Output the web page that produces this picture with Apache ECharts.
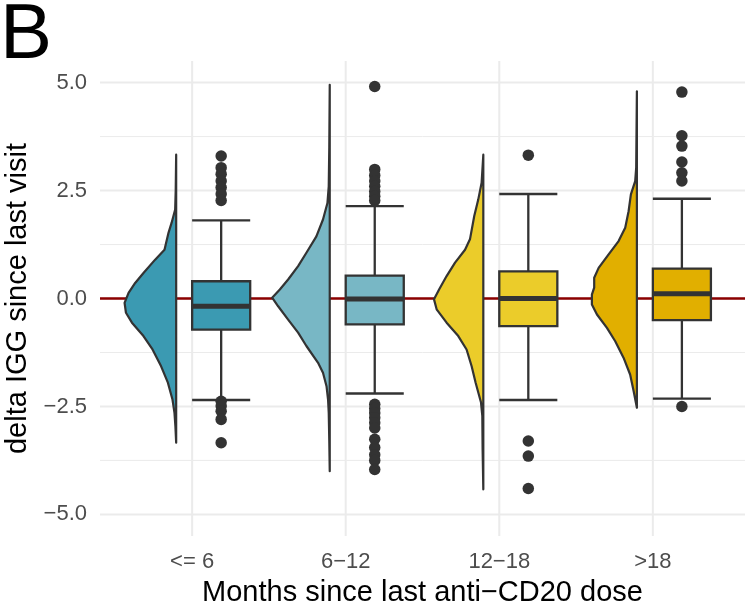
<!DOCTYPE html>
<html><head><meta charset="utf-8">
<script src="https://cdn.jsdelivr.net/npm/echarts@6/dist/echarts.min.js"></script>
<style>html,body{margin:0;padding:0;background:#fff}#c{width:747px;height:607px}</style>
</head><body><div id="c"></div>
<script>
// ---- data ----
const categories = ['<= 6', '6\u221212', '12\u221218', '>18'];
const fillColors = ['#3B9AB2', '#78B7C5', '#EBCC2A', '#E1AF00'];
const yTicksMajor = [-5, -2.5, 0, 2.5, 5];
const yTicksMinor = [-3.75, -1.25, 1.25, 3.75];

const whiskerLow = [-2.35, -2.20, -2.35, -2.32];
const q1 = [-0.72, -0.60, -0.64, -0.50];
const median = [-0.18, -0.01, 0.00, 0.11];
const q3 = [0.40, 0.53, 0.63, 0.69];
const whiskerHigh = [1.81, 2.14, 2.42, 2.31];

const outliers1 = [3.30, 3.03, 2.88, 2.72, 2.57, 2.42, 2.27, -2.38, -2.49, -2.61, -2.80, -3.34];
const outliers2 = [4.91, 2.99, 2.85, 2.72, 2.60, 2.48, 2.37, 2.27, -2.45, -2.55, -2.65, -2.76, -2.88, -3.00, -3.26, -3.45, -3.62, -3.75, -3.96];
const outliers3 = [3.32, -3.30, -3.65, -4.40];
const outliers4 = [4.78, 3.77, 3.53, 3.16, 2.91, 2.72, -2.50];

// half-violin density profiles: y value and half-width (x-axis units)
const violinY1 = [3.33, 2.5, 2.06, 1.75, 1.52, 1.13, 0.90, 0.59, 0.36, 0.13, -0.10, -0.33, -0.56, -0.87, -1.18, -1.57, -1.95, -2.34, -2.65, -2.96, -3.34];
const violinW1 = [0, 0.003, 0.0065, 0.03, 0.050, 0.076, 0.137, 0.213, 0.267, 0.310, 0.336, 0.327, 0.288, 0.213, 0.154, 0.098, 0.054, 0.024, 0.011, 0.005, 0];
const violinY2 = [4.95, 3.5, 2.6, 2.21, 1.83, 1.44, 1.06, 0.75, 0.44, 0.21, 0.02, -0.18, -0.49, -0.79, -1.10, -1.49, -1.72, -2.03, -2.34, -2.65, -3.3, -4.0];
const violinW2 = [0, 0.003, 0.0065, 0.015, 0.044, 0.087, 0.152, 0.206, 0.271, 0.325, 0.375, 0.336, 0.271, 0.206, 0.152, 0.076, 0.044, 0.021, 0.011, 0.0065, 0.003, 0];
const violinY3 = [3.33, 2.68, 2.29, 1.91, 1.37, 1.13, 0.83, 0.52, 0.21, -0.02, -0.25, -0.56, -0.87, -1.18, -1.57, -1.95, -2.41, -2.72, -3.5, -4.42];
const violinW3 = [0, 0.011, 0.033, 0.059, 0.087, 0.119, 0.184, 0.239, 0.288, 0.321, 0.304, 0.239, 0.163, 0.109, 0.076, 0.050, 0.015, 0.0065, 0.0045, 0];
const violinY4 = [4.80, 3.03, 2.72, 2.41, 2.02, 1.64, 1.33, 1.02, 0.71, 0.48, 0.25, 0.09, -0.14, -0.37, -0.68, -0.99, -1.37, -1.76, -2.15, -2.53];
const violinW4 = [0, 0.0045, 0.011, 0.039, 0.054, 0.076, 0.119, 0.184, 0.249, 0.278, 0.278, 0.293, 0.293, 0.260, 0.195, 0.141, 0.087, 0.044, 0.021, 0];

// ---- build ----
const outliers = [outliers1, outliers2, outliers3, outliers4];
const violinY = [violinY1, violinY2, violinY3, violinY4];
const violinW = [violinW1, violinW2, violinW3, violinW4];

const VIOLIN_OFF = -0.104;   // baseline offset of half violin
const BOX_L = 0.0, BOX_R = 0.378; // box extends right of category centre
const BOX_C = (BOX_L + BOX_R) / 2;
const INK = '#333333';
const FONT = 'Liberation Sans, Arial, Helvetica, sans-serif';

const catIdx = categories.map((c, i) => [i + 1, 0]);

const gridData = [];
yTicksMajor.forEach(v => gridData.push([1, v, 1]));
yTicksMinor.forEach(v => gridData.push([1, v, 0]));

const scatterData = [];
outliers.forEach((arr, i) => arr.forEach(v => scatterData.push([i + 1 + BOX_C, v])));

const chart = echarts.init(document.getElementById('c'), null, {renderer: 'canvas'});
chart.setOption({
  animation: false,
  backgroundColor: '#fff',
  grid: {left: 100, right: 2, top: 61, bottom: 71, containLabel: false, outerBoundsMode: 'none'},
  graphic: [{type: 'text', left: 0, top: -3, style: {text: 'B', fontSize: 78, fill: '#000', fontFamily: FONT}}],
  xAxis: {
    type: 'value', min: 0.4, max: 4.6,
    axisLine: {show: false}, axisTick: {show: false}, splitLine: {show: false},
    axisLabel: {customValues: [1, 2, 3, 4], formatter: v => categories[Math.round(v) - 1] || '',
      color: '#4D4D4D', fontSize: 22, fontFamily: FONT, margin: 15, hideOverlap: false},
    name: 'Months since last anti\u2212CD20 dose', nameLocation: 'middle', nameGap: 42,
    nameTextStyle: {color: '#000', fontSize: 29, fontFamily: FONT}
  },
  yAxis: {
    type: 'value', min: -5.5, max: 5.5,
    axisLine: {show: false}, axisTick: {show: false}, splitLine: {show: false},
    axisLabel: {customValues: yTicksMajor, formatter: v => v.toFixed(1).replace('-', '\u2212'),
      color: '#4D4D4D', fontSize: 22, fontFamily: FONT, margin: 13, hideOverlap: false},
    name: 'delta IGG since last visit', nameLocation: 'middle', nameGap: 68,
    nameTextStyle: {color: '#000', fontSize: 29, fontFamily: FONT}
  },
  series: [
    { // horizontal grid lines
      type: 'custom', z: 0, silent: true, data: gridData,
      renderItem: (params, api) => {
        const cs = params.coordSys;
        const y = api.coord([1, api.value(1)])[1];
        return {type: 'line', shape: {x1: cs.x, y1: y, x2: cs.x + cs.width, y2: y},
          style: {stroke: '#EBEBEB', lineWidth: api.value(2) ? 2 : 1}};
      }
    },
    { // vertical grid lines at categories
      type: 'custom', z: 0, silent: true, data: catIdx,
      renderItem: (params, api) => {
        const cs = params.coordSys;
        const x = api.coord([api.value(0), 0])[0];
        return {type: 'line', shape: {x1: x, y1: cs.y, x2: x, y2: cs.y + cs.height},
          style: {stroke: '#EBEBEB', lineWidth: 2}};
      }
    },
    { // zero reference line
      type: 'custom', z: 1, silent: true, data: [[1, 0]],
      renderItem: (params, api) => {
        const cs = params.coordSys;
        const y = api.coord([1, api.value(1)])[1];
        return {type: 'line', shape: {x1: cs.x, y1: y, x2: cs.x + cs.width, y2: y},
          style: {stroke: '#8B0000', lineWidth: 2.6}};
      }
    },
    { // half violins
      type: 'custom', z: 2, silent: true, data: catIdx,
      renderItem: (params, api) => {
        const c = api.value(0), i = c - 1;
        const ys = violinY[i], ws = violinW[i];
        const base = c + VIOLIN_OFF;
        const pts = [];
        for (let k = 0; k < ys.length; k++) pts.push(api.coord([base - ws[k], ys[k]]));
        pts.push(api.coord([base, ys[ys.length - 1]]));
        pts.push(api.coord([base, ys[0]]));
        return {type: 'polygon', shape: {points: pts},
          style: {fill: fillColors[i], stroke: INK, lineWidth: 2.2, lineJoin: 'round'}};
      }
    },
    { // box plots
      type: 'custom', z: 3, silent: true, data: catIdx,
      renderItem: (params, api) => {
        const c = api.value(0), i = c - 1;
        const xl = api.coord([c + BOX_L, 0])[0], xr = api.coord([c + BOX_R, 0])[0];
        const xm = api.coord([c + BOX_C, 0])[0];
        const yv = v => api.coord([c, v])[1];
        const lw = 2.3;
        const ls = {stroke: INK, lineWidth: lw};
        return {type: 'group', children: [
          {type: 'line', shape: {x1: xm, y1: yv(whiskerHigh[i]), x2: xm, y2: yv(q3[i])}, style: ls},
          {type: 'line', shape: {x1: xm, y1: yv(whiskerLow[i]), x2: xm, y2: yv(q1[i])}, style: ls},
          {type: 'line', shape: {x1: xl, y1: yv(whiskerHigh[i]), x2: xr, y2: yv(whiskerHigh[i])}, style: ls},
          {type: 'line', shape: {x1: xl, y1: yv(whiskerLow[i]), x2: xr, y2: yv(whiskerLow[i])}, style: ls},
          {type: 'rect', shape: {x: xl, y: yv(q3[i]), width: xr - xl, height: yv(q1[i]) - yv(q3[i])},
            style: {fill: fillColors[i], stroke: INK, lineWidth: lw}},
          {type: 'line', shape: {x1: xl, y1: yv(median[i]), x2: xr, y2: yv(median[i])},
            style: {stroke: INK, lineWidth: 5}}
        ]};
      }
    },
    { // outliers
      type: 'scatter', z: 4, silent: true, data: scatterData,
      symbol: 'circle', symbolSize: 11.5,
      itemStyle: {color: INK, opacity: 1}
    }
  ]
});
</script></body></html>
